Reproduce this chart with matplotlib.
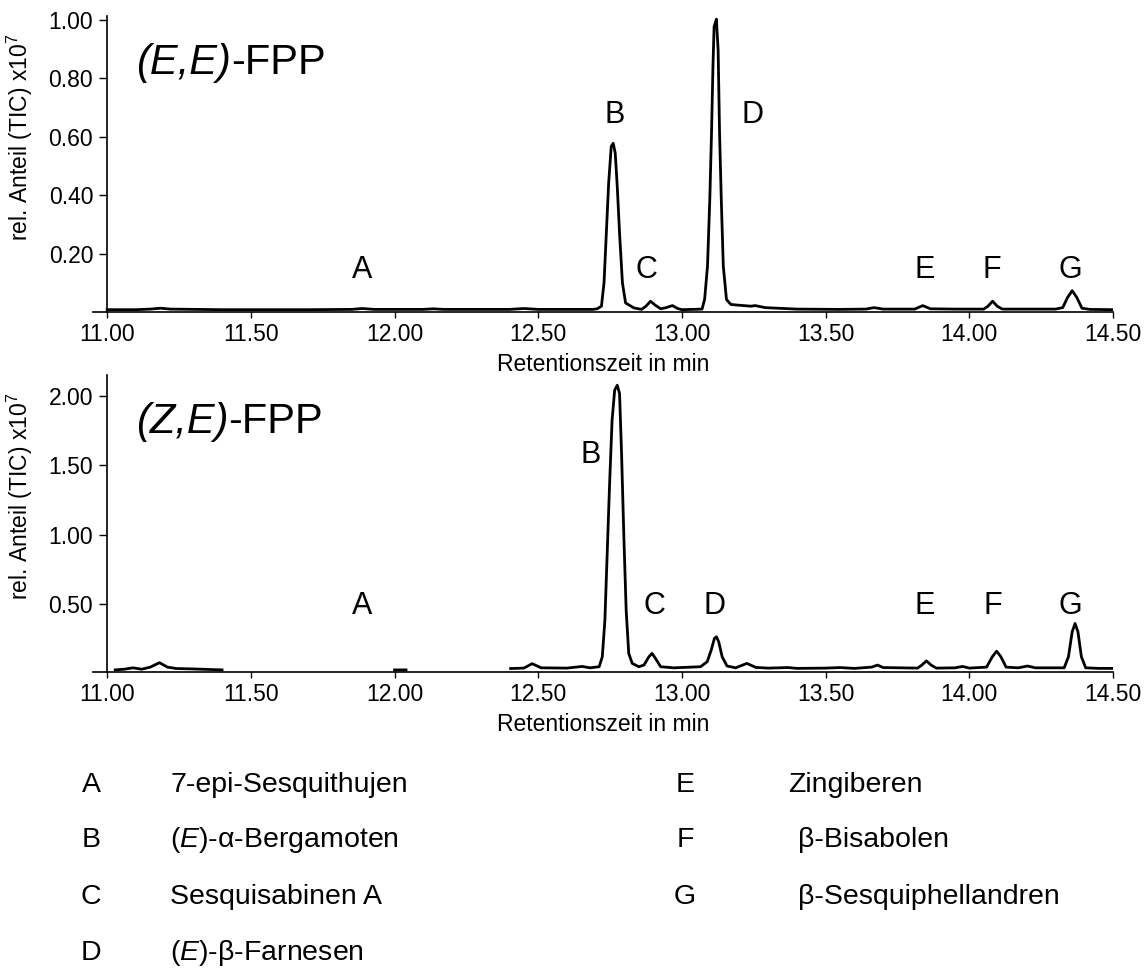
import matplotlib
matplotlib.use('Agg')
import matplotlib.pyplot as plt
import numpy as np
from matplotlib.ticker import FormatStrFormatter

matplotlib.rcParams.update({
    'font.family': 'Liberation Sans',
    'mathtext.fontset': 'custom',
    'mathtext.rm': 'Liberation Sans',
    'mathtext.it': 'Liberation Sans:italic',
    'font.size': 16,
})

"Daten (abgelesen)"

# (E,E)-FPP
t_ee = [11.00, 11.10, 11.15, 11.185, 11.22, 11.40, 11.70, 11.85, 11.888, 11.93,
        12.10, 12.135, 12.17, 12.40, 12.45, 12.50, 12.69, 12.705,
        12.720, 12.729, 12.737, 12.745, 12.754, 12.761, 12.768, 12.775, 12.783,
        12.793, 12.804, 12.833, 12.86, 12.875, 12.891, 12.905, 12.926, 12.945,
        12.967, 12.985, 13.00, 13.07,
        13.079, 13.089, 13.097, 13.103, 13.108, 13.112, 13.120, 13.126, 13.131,
        13.137, 13.144, 13.155, 13.170, 13.19, 13.24, 13.255, 13.29, 13.40,
        13.55, 13.64, 13.668, 13.70, 13.81, 13.838, 13.865, 13.95, 14.05,
        14.065, 14.081, 14.097, 14.115, 14.30, 14.325, 14.342, 14.358, 14.374,
        14.392, 14.42, 14.50]
i_ee = [0.008, 0.008, 0.010, 0.013, 0.010, 0.008, 0.008, 0.009, 0.012, 0.009,
        0.009, 0.011, 0.009, 0.009, 0.012, 0.009, 0.009, 0.011,
        0.02, 0.10, 0.27, 0.44, 0.567, 0.578, 0.544, 0.43, 0.27,
        0.10, 0.031, 0.014, 0.009, 0.02, 0.037, 0.025, 0.011, 0.015,
        0.022, 0.012, 0.008, 0.010,
        0.043, 0.157, 0.385, 0.613, 0.84, 0.977, 1.003, 0.897, 0.613,
        0.385, 0.157, 0.043, 0.026, 0.024, 0.020, 0.022, 0.015, 0.010,
        0.009, 0.010, 0.015, 0.010, 0.010, 0.022, 0.011, 0.010, 0.010,
        0.02, 0.037, 0.02, 0.010, 0.010, 0.015, 0.05, 0.073, 0.05,
        0.013, 0.009, 0.008]

# (Z,E)-FPP (Luecken in der Spur als nan)
t_ze = [11.028, 11.06, 11.09, 11.12, 11.15, 11.182, 11.21, 11.24, 11.30, 11.40,
        np.nan, 12.00, 12.04, np.nan,
        12.404, 12.45, 12.479, 12.51, 12.60, 12.653, 12.68, 12.712,
        12.723, 12.732, 12.740, 12.748, 12.757, 12.766, 12.775, 12.783, 12.790,
        12.798, 12.806, 12.815, 12.827, 12.850, 12.868, 12.885, 12.896, 12.908,
        12.926, 12.972, 13.065, 13.088, 13.102, 13.113, 13.120, 13.128, 13.140,
        13.157, 13.187, 13.226, 13.257, 13.30, 13.37, 13.40, 13.50, 13.55,
        13.60, 13.66, 13.681, 13.70, 13.82, 13.835, 13.851, 13.867, 13.885,
        13.95, 13.977, 14.00, 14.06, 14.08, 14.095, 14.11, 14.128, 14.17,
        14.203, 14.23, 14.33, 14.345, 14.358, 14.368, 14.378, 14.39, 14.405,
        14.45, 14.50]
i_ze = [0.025, 0.03, 0.04, 0.03, 0.045, 0.077, 0.045, 0.035, 0.032, 0.025,
        np.nan, 0.025, 0.025, np.nan,
        0.035, 0.038, 0.07, 0.04, 0.038, 0.05, 0.04, 0.048,
        0.12, 0.384, 0.865, 1.345, 1.826, 2.043, 2.079, 2.019, 1.586,
        0.985, 0.456, 0.144, 0.072, 0.048, 0.06, 0.12, 0.144, 0.108,
        0.048, 0.04, 0.048, 0.084, 0.168, 0.252, 0.264, 0.228, 0.12,
        0.053, 0.04, 0.072, 0.043, 0.038, 0.042, 0.036, 0.038, 0.042,
        0.036, 0.045, 0.06, 0.042, 0.038, 0.06, 0.09, 0.06, 0.038,
        0.04, 0.05, 0.038, 0.045, 0.12, 0.16, 0.12, 0.045, 0.04,
        0.053, 0.04, 0.04, 0.12, 0.30, 0.36, 0.30, 0.12, 0.04,
        0.036, 0.036]

peak_letters = ['A', 'B', 'C', 'D', 'E', 'F', 'G']
lab_x_ee = [11.888, 12.766, 12.877, 13.247, 13.846, 14.079, 14.351]
lab_y_ee = [0.145, 0.675, 0.145, 0.675, 0.145, 0.145, 0.145]
lab_x_ze = [11.888, 12.682, 12.905, 13.114, 13.846, 14.082, 14.351]
lab_y_ze = [0.485, 1.574, 0.485, 0.485, 0.485, 0.485, 0.485]

namen = ['7-epi-Sesquithujen', r'($\mathit{E}$)-α-Bergamoten', 'Sesquisabinen A',
         r'($\mathit{E}$)-β-Farnesen', 'Zingiberen', 'β-Bisabolen',
         'β-Sesquiphellandren']

xticks = [11.0, 11.5, 12.0, 12.5, 13.0, 13.5, 14.0, 14.5]
yticks_ee = [0.2, 0.4, 0.6, 0.8, 1.0]
yticks_ze = [0.5, 1.0, 1.5, 2.0]

"Grafik"

fig = plt.figure(figsize=(11.46, 9.69), dpi=100)
ax1 = fig.add_axes([0.0812, 0.678, 0.890, 0.3055])
ax2 = fig.add_axes([0.0812, 0.3068, 0.890, 0.306])

panels = [(ax1, t_ee, i_ee, lab_x_ee, lab_y_ee, yticks_ee, (0, 1.014), '(E,E)'),
          (ax2, t_ze, i_ze, lab_x_ze, lab_y_ze, yticks_ze, (0.012, 2.151), '(Z,E)')]

for ax, t, inten, lx, ly, yt, ylim, titel in panels:
    ax.plot(t, inten, color='black', lw=2.0)
    ax.set_xlim(10.951, 14.5)
    ax.set_ylim(ylim)
    ax.spines['top'].set_visible(False)
    ax.spines['right'].set_visible(False)
    ax.spines['left'].set_position(('data', 11.0))
    for s in ['left', 'bottom']:
        ax.spines[s].set_linewidth(1.2)
    ax.set_xticks(xticks)
    ax.set_yticks(yt)
    ax.xaxis.set_major_formatter(FormatStrFormatter('%.2f'))
    ax.yaxis.set_major_formatter(FormatStrFormatter('%.2f'))
    ax.tick_params(axis='x', length=4, width=1, pad=4, labelsize=16.5)
    ax.tick_params(axis='y', length=6, width=1, pad=4, labelsize=16.5)
    ax.set_xlabel('Retentionszeit in min', fontsize=16.5, labelpad=5)
    ax.set_ylabel(r'rel. Anteil (TIC) x10$^{7}$', fontsize=16.5)
    ax.yaxis.set_label_coords(-0.057, 0.59)
    for b, x, y in zip(peak_letters, lx, ly):
        ax.text(x, y, b, fontsize=22, ha='center', va='center')
    # Titel: (E,E) kursiv, -FPP gerade
    t1 = ax.text(0.042, 0.775, titel, transform=ax.transAxes, fontsize=30,
                 fontstyle='italic', ha='left', va='bottom')
    ax.annotate('-FPP', xy=(1, 0), xycoords=t1, fontsize=30,
                ha='left', va='bottom')

# Legende unten
zeilen_y = [785, 840, 897, 953, 785, 840, 897]
buchst_x = [91, 91, 91, 91, 685, 685, 685]
namen_x = [170, 170, 170, 170, 788, 798, 798]
for b, n, yy, bx, nx in zip(peak_letters, namen, zeilen_y, buchst_x, namen_x):
    fig.text(bx / 1146, 1 - yy / 969, b, fontsize=20.5, ha='center', va='center')
    fig.text(nx / 1146, 1 - yy / 969, n, fontsize=20.5, ha='left', va='center')

fig.savefig('out.png', dpi=100)
